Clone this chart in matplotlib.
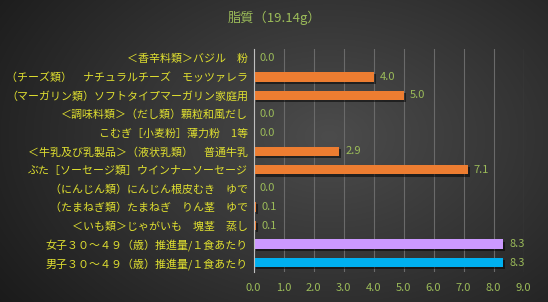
import numpy as np
import matplotlib
matplotlib.use("Agg")
import matplotlib.pyplot as plt
import matplotlib.patheffects as pe

plt.rcParams['font.family'] = ['Noto Sans CJK JP', 'DejaVu Sans']

title = "脂質（19.14g）"
categories = [
    "＜香辛料類＞バジル　粉",
    "（チーズ類）　ナチュラルチーズ　モッツァレラ",
    "（マーガリン類）ソフトタイプマーガリン家庭用",
    "＜調味料類＞（だし類）顆粒和風だし",
    "こむぎ［小麦粉］薄力粉　1等",
    "＜牛乳及び乳製品＞（液状乳類）　普通牛乳",
    "ぶた［ソーセージ類］ウインナーソーセージ",
    "（にんじん類）にんじん根皮むき　ゆで",
    "（たまねぎ類）たまねぎ　りん茎　ゆで",
    "＜いも類＞じゃがいも　塊茎　蒸し",
    "女子３０～４９（歳）推進量/１食あたり",
    "男子３０～４９（歳）推進量/１食あたり",
]
values = [0.0, 4.0, 5.0, 0.0, 0.0, 2.86, 7.14, 0.0, 0.08, 0.08, 8.33, 8.33]
labels = ["0.0", "4.0", "5.0", "0.0", "0.0", "2.9", "7.1", "0.0", "0.1", "0.1", "8.3", "8.3"]
colors = ["#ed7d31"] * 10 + ["#cc99ff", "#00b0f0"]
xticks = [0, 1, 2, 3, 4, 5, 6, 7, 8, 9]

W, H = 548, 302
fig = plt.figure(figsize=(W / 100, H / 100), dpi=100)

# radial gradient background
bg = fig.add_axes([0, 0, 1, 1], zorder=-10)
yy, xx = np.mgrid[0:H, 0:W]
cx, cy = W * 0.6, H * 0.45
r = np.sqrt(((xx - cx) / (W * 0.75)) ** 2 + ((yy - cy) / (H * 0.95)) ** 2)
r = np.clip(r, 0, 1)
c0 = np.array([0x4c, 0x4c, 0x4c]) / 255
c1 = np.array([0x1a, 0x1a, 0x1a]) / 255
img = c0[None, None, :] * (1 - r[..., None]) + c1[None, None, :] * r[..., None]
bg.imshow(img, aspect='auto', extent=[0, 1, 0, 1])
bg.axis('off')

ax = fig.add_axes([253.5 / W, 1 - 272 / H, (523.5 - 253.5) / W, (272 - 49) / H])
ax.patch.set_alpha(0)
y = np.arange(len(categories))
bars = ax.barh(y, values, height=0.5, color=colors, zorder=3)
for b in bars:
    b.set_path_effects([pe.SimplePatchShadow(offset=(1.5, -1.5), shadow_rgbFace='black', alpha=0.5), pe.Normal()])

for yi, v, lab in zip(y, values, labels):
    ax.text(v + 0.2, yi, lab, va='center', ha='left', color='#9bbb59', fontsize=8)

ax.set_xlim(0, 9)
ax.set_ylim(11.5, -0.5)
ax.set_yticks(y)
ax.set_yticklabels(categories, color='#e0e030', fontsize=7.9)
ax.set_xticks(xticks)
ax.set_xticklabels([f"{t:.1f}" for t in xticks], color='#9bbb59', fontsize=8)
ax.tick_params(axis='both', length=0)
ax.tick_params(axis='y', pad=4)
ax.tick_params(axis='x', pad=8)
ax.grid(axis='x', color='#6a6a6a', linewidth=0.8, zorder=0)
for s in ['top', 'right', 'bottom']:
    ax.spines[s].set_visible(False)
ax.spines['left'].set_color('#bfbfbf')
ax.spines['left'].set_linewidth(0.8)
ax.spines['left'].set_zorder(4)

fig.text(0.5, 1 - 18 / H, title, ha='center', va='center', color='#9bbb59', fontsize=9.5)

fig.savefig("out.png", dpi=100)
